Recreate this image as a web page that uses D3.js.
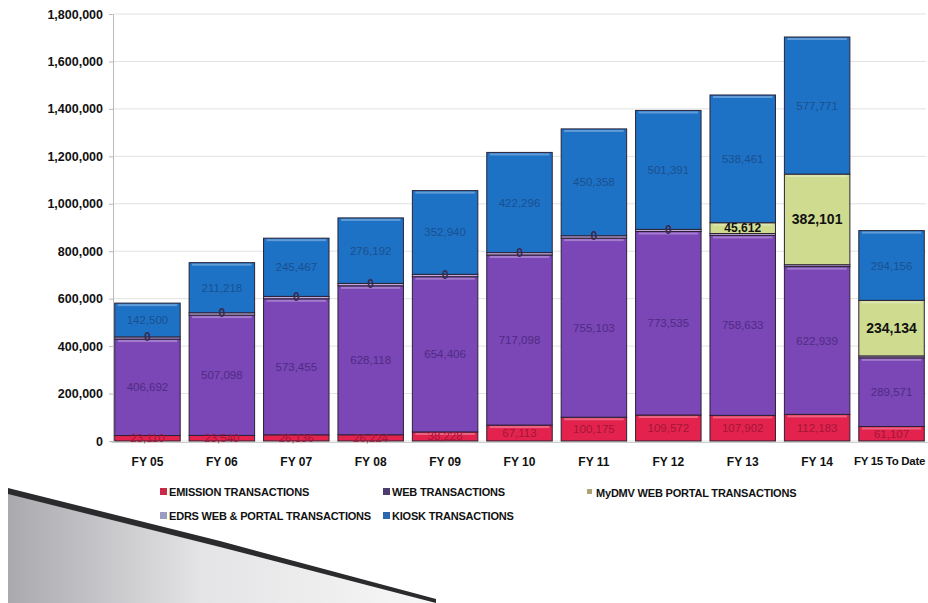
<!DOCTYPE html>
<html>
<head>
<meta charset="utf-8">
<title>Transactions by fiscal year</title>
<script src="https://cdnjs.cloudflare.com/ajax/libs/d3/7.8.5/d3.min.js"></script>
<style>
  body, html { margin: 0; padding: 0; background: #fff; }
  svg { display: block; font-family: "Liberation Sans", Arial, sans-serif; }
  .tick text { font-weight: bold; }
</style>
</head>
<body>
<div id="chart"></div>
<script>
var categories = ["FY 05", "FY 06", "FY 07", "FY 08", "FY 09", "FY 10", "FY 11", "FY 12", "FY 13", "FY 14", "FY 15 To Date"];
var emission = [23110, 23540, 26136, 26224, 38228, 67113, 100175, 109572, 107902, 112183, 61107];
var web      = [406692, 507098, 573455, 628118, 654406, 717098, 755103, 773535, 758633, 622939, 289571];
var edrs     = [9000, 10000, 10000, 10000, 10000, 10000, 10000, 9000, 8000, 8000, 8000];
var mydmv    = [0, 0, 0, 0, 0, 0, 0, 0, 45612, 382101, 234134];
var kiosk    = [142500, 211218, 245467, 276192, 352940, 422296, 450358, 501391, 538461, 577771, 294156];
var yTicks   = [0, 200000, 400000, 600000, 800000, 1000000, 1200000, 1400000, 1600000, 1800000];

var seriesKeys = ["emission", "web", "edrs", "mydmv", "kiosk"];
var seriesNames = {
    emission: "EMISSION TRANSACTIONS",
    web: "WEB TRANSACTIONS",
    edrs: "EDRS WEB & PORTAL TRANSACTIONS",
    mydmv: "MyDMV WEB PORTAL TRANSACTIONS",
    kiosk: "KIOSK TRANSACTIONS"
};
var fill = { emission: "#e3234d", web: "#7b46b6", edrs: "#c4a6dc", mydmv: "#cfdc8f", kiosk: "#1e72c6" };
var labelColor = { emission: "#a3153a", web: "#4e2c84", edrs: "#4e2c84", mydmv: "#111", kiosk: "#19508f" };
var legendColor = { emission: "#c8284a", web: "#4d3d6d", edrs: "#9b9cc2", mydmv: "#aaa473", kiosk: "#2a69b0" };

var table = categories.map(function (c, i) {
    return { cat: c, emission: emission[i], web: web[i], edrs: edrs[i], mydmv: mydmv[i], kiosk: kiosk[i] };
});

var width = 928, height = 603;
var svg = d3.select("#chart").append("svg").attr("width", width).attr("height", height);

var defs = svg.append("defs");
var g1 = defs.append("linearGradient").attr("id", "deco").attr("x1", "0").attr("x2", "1").attr("y1", "0").attr("y2", "0");
g1.append("stop").attr("offset", "0%").attr("stop-color", "#a9a9ae");
g1.append("stop").attr("offset", "45%").attr("stop-color", "#e4e4e6");
g1.append("stop").attr("offset", "100%").attr("stop-color", "#f7f7f7");

// decorative wedge at the bottom left
svg.append("path")
    .attr("d", "M8,490 L436,601 L436,603 L8,603 Z")
    .attr("fill", "url(#deco)");
svg.append("path")
    .attr("d", "M8,488 L220,541 L436,599 L436,603 L220,547 L8,494 Z")
    .attr("fill", "#2b2b2e");

var x = d3.scaleBand().domain(categories).range([111, 928]).paddingInner(0.12).paddingOuter(0.05);
var y = d3.scaleLinear().domain([0, 1800000]).range([441, 14]);

// grid
svg.append("g").selectAll("line").data(yTicks).join("line")
    .attr("x1", 114).attr("x2", 926)
    .attr("y1", function (d) { return y(d); }).attr("y2", function (d) { return y(d); })
    .attr("stroke", "#e2e2e2").attr("stroke-width", 1);

var yAxis = svg.append("g").attr("transform", "translate(113,0)")
    .call(d3.axisLeft(y).tickValues(yTicks).tickFormat(d3.format(",")).tickSize(4).tickPadding(6));
yAxis.select(".domain").attr("stroke", "#bbb");
yAxis.selectAll(".tick line").attr("stroke", "#bbb");
yAxis.selectAll(".tick text").attr("font-size", 12.5).attr("fill", "#111");

var xAxis = svg.append("g").attr("transform", "translate(0,442)")
    .call(d3.axisBottom(x).tickSize(0).tickPadding(15));
xAxis.select(".domain").attr("stroke", "#ccc");
xAxis.selectAll(".tick text").attr("font-size", 12).attr("fill", "#111");
xAxis.selectAll(".tick text").filter(function (d) { return d.length > 6; })
    .attr("font-size", 11.5).attr("letter-spacing", -0.3).attr("dx", -2);

var stacked = d3.stack().keys(seriesKeys)(table);

var layers = svg.append("g").selectAll("g").data(stacked).join("g");

layers.selectAll("rect.seg").data(function (s) {
        return s.map(function (d) { return { key: s.key, d: d }; });
    }).join("rect")
    .attr("class", "seg")
    .attr("x", function (o) { return x(o.d.data.cat); })
    .attr("width", x.bandwidth())
    .attr("y", function (o) { return y(o.d[1]); })
    .attr("height", function (o) { return Math.max(0, y(o.d[0]) - y(o.d[1])); })
    .attr("fill", function (o) { return fill[o.key]; })
    .attr("stroke", "#2a2236")
    .attr("stroke-width", function (o) { return o.d[1] - o.d[0] > 0 ? 1 : 0; });

// light bevel on the top of each segment
layers.selectAll("rect.hl").data(function (s) {
        return s.filter(function (d) { return d[1] - d[0] > 30000; })
            .map(function (d) { return { key: s.key, d: d }; });
    }).join("rect")
    .attr("class", "hl")
    .attr("x", function (o) { return x(o.d.data.cat) + 3; })
    .attr("width", x.bandwidth() - 6)
    .attr("y", function (o) { return y(o.d[1]) + 1; })
    .attr("height", 2)
    .attr("fill", "#fff")
    .attr("opacity", 0.3);

// value labels
var labelData = [];
stacked.forEach(function (s) {
    s.forEach(function (d) {
        var v = d[1] - d[0];
        if (s.key === "edrs") return;
        labelData.push({ key: s.key, cat: d.data.cat, v: v, mid: (d[0] + d[1]) / 2 });
    });
});

svg.append("g").selectAll("text").data(labelData).join("text")
    .attr("x", function (o) { return x(o.cat) + x.bandwidth() / 2; })
    .attr("y", function (o) { return y(o.mid); })
    .attr("dy", "0.35em")
    .attr("text-anchor", "middle")
    .attr("font-size", function (o) { return o.key === "mydmv" ? (o.v > 100000 ? 14 : 12) : (o.v === 0 ? 9 : 11.5); })
    .attr("font-weight", function (o) { return o.key === "mydmv" ? "bold" : "normal"; })
    .attr("fill", function (o) { return o.key === "mydmv" && o.v === 0 ? "#3a2a50" : labelColor[o.key]; })
    .text(function (o) { return d3.format(",")(o.v); });

// legend
var legendItems = [
    { key: "emission", x: 160, y: 492 },
    { key: "web", x: 383, y: 492 },
    { key: "mydmv", x: 587, y: 493 },
    { key: "edrs", x: 160, y: 516 },
    { key: "kiosk", x: 383, y: 516 }
];
var lg = svg.append("g").selectAll("g").data(legendItems).join("g")
    .attr("transform", function (d) { return "translate(" + d.x + "," + d.y + ")"; });
lg.append("rect").attr("x", 0).attr("y", -4)
    .attr("width", function (d) { return d.key === "mydmv" ? 5 : 7; })
    .attr("height", function (d) { return d.key === "mydmv" ? 5 : 7; })
    .attr("fill", function (d) { return legendColor[d.key]; });
lg.append("text").attr("x", 9).attr("dy", "0.35em")
    .attr("font-size", 11).attr("font-weight", "bold").attr("fill", "#111")
    .attr("letter-spacing", -0.2)
    .text(function (d) { return seriesNames[d.key]; });
</script>
</body>
</html>
